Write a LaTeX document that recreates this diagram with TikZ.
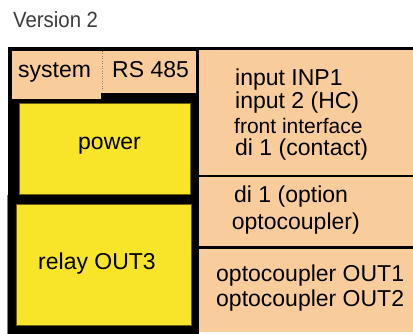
\documentclass[tikz,border=0pt]{standalone}
\usepackage{fontspec}
\setmainfont{Liberation Sans}
\definecolor{peach}{HTML}{F9CD9B}
\definecolor{yel}{HTML}{F8E428}
\definecolor{olive}{HTML}{6B5C10}
\definecolor{vgray}{HTML}{3C3C3C}
\begin{document}
\begin{tikzpicture}[x=1pt,y=-1pt,
  txt/.style={anchor=base west, inner sep=0pt, font=\fontsize{23}{27}\selectfont},
  smalltxt/.style={anchor=base west, inner sep=0pt, font=\fontsize{21}{25}\selectfont},
  peachbox/.style={fill=peach},
  yelbox/.style={fill=yel, draw=olive, line width=0.5pt}]
\useasboundingbox (0,0) rectangle (413,334);
% title
\node[anchor=base west, inner sep=0pt, text=vgray, font=\fontsize{22}{26}\selectfont] (title) at (13,27.7) {\scalebox{0.925}[1]{Version 2}};
% black frames
\fill[black] (8,47) rectangle (199,334);
\fill[black] (199,47) rectangle (413,332);
\draw[gray, line width=0.8pt] (7.4,195) -- (7.4,334);
% top-left system / RS485
\fill[peachbox] (12,51) rectangle (196,99);
\draw[gray, dotted, line width=0.5pt] (102.7,51) -- (102.7,90);
\fill[black] (101,93.5) rectangle (196,103);
% yellow boxes
\path[yelbox] (19,103) rectangle (190.7,194);
\path[yelbox] (16,204) rectangle (191,325);
% right column
\fill[peachbox] (199,50) rectangle (413,175);
\fill[peachbox] (199,177.5) rectangle (413,246);
\fill[peachbox] (199,249) rectangle (413,332);
% texts
\node[txt] (sys) at (18,78) {system};
\node[txt] (rs) at (112,78) {RS 485};
\node[txt] (pow) at (78,150) {power};
\node[txt] (relay) at (38,270) {relay OUT3};
\node[txt] (in1) at (235,85.7) {input INP1};
\node[txt] (in2) at (235,108.3) {input 2 (HC)};
\node[smalltxt] (front) at (234,133.3) {front interface};
\node[txt] (di1) at (235,156) {di 1 (contact)};
\node[txt] (opt1) at (234,202.7) {di 1 (option};
\node[txt] (opt2) at (231.7,229.3) {optocoupler)};
\node[txt] (out1) at (216,281.7) {optocoupler OUT1};
\node[txt] (out2) at (216,306.7) {optocoupler OUT2};
\end{tikzpicture}
\end{document}
